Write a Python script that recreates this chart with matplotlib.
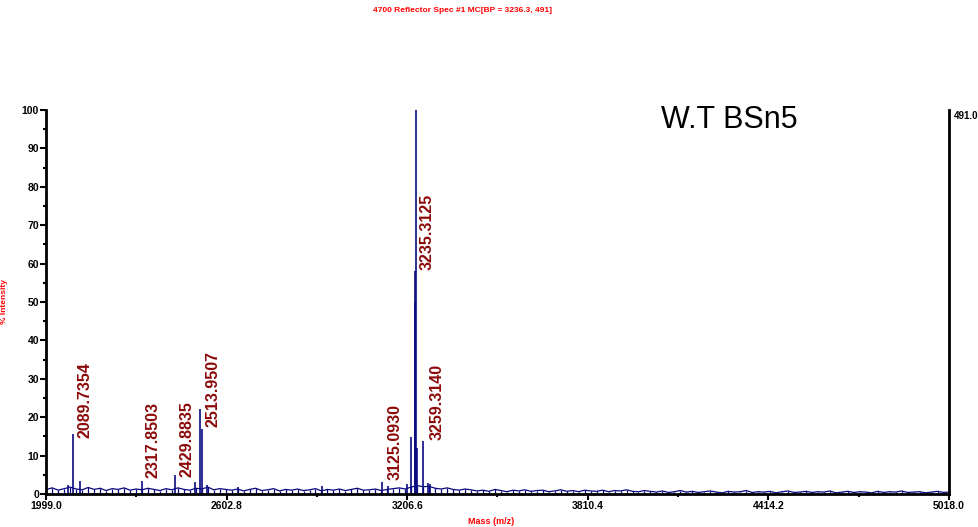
import numpy as np
import matplotlib
matplotlib.use('Agg')
import matplotlib.pyplot as plt
from matplotlib.ticker import FixedLocator, FormatStrFormatter, MultipleLocator

plt.rcParams['font.family'] = ['Liberation Sans', 'DejaVu Sans']
narrow = ['Liberation Sans Narrow', 'Liberation Sans', 'DejaVu Sans']

# baseline noise, read every 20 Da from 2000 to 5020 (% intensity)
base_mz = np.arange(2000, 5021, 20)
base_int = [
    1.2, 1.6, 1.0, 1.4, 1.8, 1.3, 1.1, 1.7, 1.2, 1.5, 0.9, 1.4, 1.2, 1.6, 1.0, 1.3,
    1.1, 1.5, 1.2, 0.9, 1.4, 1.1, 1.6, 1.2, 1.0, 1.5, 1.3, 1.8, 1.1, 1.4, 1.2,
    1.0, 1.3, 0.8, 1.2, 1.5, 0.9, 1.1, 1.4, 0.8, 1.2, 1.0, 1.3, 0.9, 1.1, 1.4,
    0.8, 1.2, 1.0, 1.3, 0.9, 1.2, 1.5, 1.0, 1.1, 1.3, 0.9, 1.2, 1.4, 1.6, 1.3,
    1.8, 2.2, 1.9, 2.0, 1.5, 1.3, 1.6, 1.2, 1.0, 1.3,
    1.1, 0.8, 1.0, 0.7, 1.2, 0.9, 0.6, 1.0, 0.8, 1.1, 0.7, 0.9, 1.0, 0.6, 0.8,
    1.1, 0.7, 0.9, 0.6, 1.0, 0.8, 0.7, 1.0, 0.6, 0.9, 0.8, 1.1, 0.7, 0.6, 0.9,
    0.7, 0.5, 0.8, 0.4, 0.6, 0.9, 0.5, 0.7, 0.4, 0.6, 0.8, 0.5, 0.3, 0.7, 0.5,
    0.6, 0.9, 0.4, 0.6, 0.5, 0.7, 0.3, 0.6, 0.8, 0.4, 0.5, 0.7, 0.4, 0.6, 0.5,
    0.8, 0.3, 0.5, 0.7, 0.4, 0.6, 0.5, 0.3, 0.7, 0.4, 0.6, 0.5, 0.8, 0.4, 0.5,
    0.6, 0.3, 0.5, 0.7, 0.4, 0.5,
]

# peaks (m/z, % intensity)
peak_mz = [2073, 2089.7, 2113, 2319, 2429.9, 2497, 2514.0, 2519, 2536, 2641, 2921,
           3124, 3143, 3206, 3219, 3232, 3234, 3236.3, 3241, 3259.3, 3275, 3283]
peak_int = [2.3, 15.6, 3.5, 3.4, 5.0, 3.1, 22.1, 17.0, 2.3, 1.8, 2.0,
            3.1, 2.2, 2.6, 14.8, 50.0, 58.0, 100.0, 12.0, 13.8, 2.8, 2.5]

# annotations: text, label x, label bottom y
ann_text = ['2089.7354', '2317.8503', '2429.8835', '2513.9507',
            '3125.0930', '3235.3125', '3259.3140']
ann_x = [2129, 2357, 2470, 2557, 3166, 3273, 3306]
ann_y = [14.6, 4.2, 4.4, 17.4, 3.6, 58.3, 14.0]

x_min, x_max = 1999.0, 5018.0
x_ticks = [1999.0, 2602.8, 3206.6, 3810.4, 4414.2, 5018.0]

fig = plt.figure(figsize=(9.79, 5.27), dpi=100)
ax = fig.add_axes([0.047, 0.0626, 0.9223, 0.7287])

line_c = '#0a0a80'
ax.plot(base_mz, base_int, color=line_c, lw=0.9)
ax.vlines(base_mz, 0, base_int, color=line_c, lw=0.9)
ax.vlines(peak_mz, 0, peak_int, color=line_c, lw=1.2)

for t, x, y in zip(ann_text, ann_x, ann_y):
    ax.text(x, y, t, rotation=90, ha='center', va='bottom', color='#8b0a0a',
            fontsize=11.5, fontweight='bold')

ax.set_xlim(x_min, x_max)
ax.set_ylim(0, 100)
ax.xaxis.set_major_locator(FixedLocator(x_ticks))
ax.xaxis.set_minor_locator(FixedLocator([(a + b) / 2 for a, b in zip(x_ticks[:-1], x_ticks[1:])]))
ax.xaxis.set_major_formatter(FormatStrFormatter('%.1f'))
ax.yaxis.set_major_locator(MultipleLocator(10))
ax.yaxis.set_minor_locator(MultipleLocator(5))

for s in ['left', 'bottom', 'right']:
    ax.spines[s].set_linewidth(2)
ax.spines['top'].set_visible(False)
ax.tick_params(which='major', direction='out', length=4, width=1.5, labelsize=7.5, pad=1)
ax.tick_params(which='minor', direction='out', length=2, width=1.5)
ax.tick_params(axis='y', right=False)
for lbl in ax.get_xticklabels() + ax.get_yticklabels():
    lbl.set_fontweight('bold')
    lbl.set_family(narrow)

ax.set_ylabel('% Intensity', color='red', fontsize=6, fontweight='bold', labelpad=10,
              family=narrow)
ax.text(0.493, -0.072, 'Mass (m/z)', transform=ax.transAxes, ha='center', va='center',
        color='red', fontsize=6.5, fontweight='bold', family=narrow)
ax.text(1.005, 0.985, '491.0', transform=ax.transAxes, ha='left', va='center',
        fontsize=7, fontweight='bold', family=narrow)

fig.text(0.472, 0.981, '4700 Reflector Spec #1 MC[BP = 3236.3, 491]', ha='center',
         va='center', color='red', fontsize=6, fontweight='bold', family=narrow)
ax.text(0.757, 0.975, 'W.T BSn5', transform=ax.transAxes, ha='center', va='center',
        fontsize=22)

fig.savefig('out.png', dpi=100)
